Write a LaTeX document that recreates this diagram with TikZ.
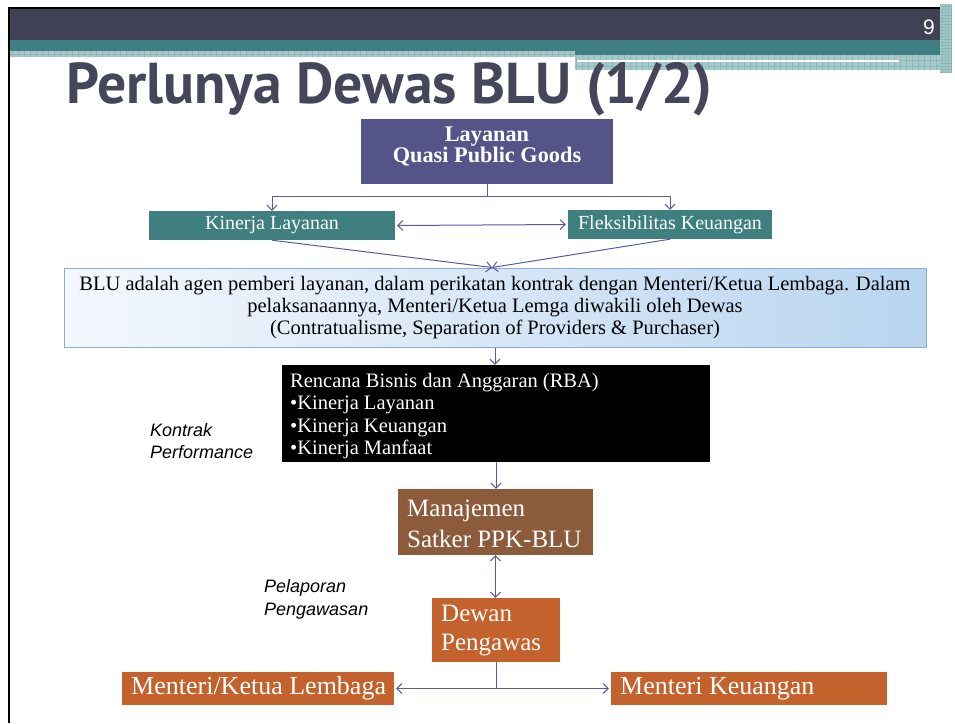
\documentclass[tikz,border=0pt]{standalone}
\usepackage{fontspec}
\setmainfont{Liberation Serif}
\newfontfamily\titlefont{PT Sans}
\newfontfamily\labelfont{Liberation Sans}
\usetikzlibrary{arrows.meta,calc}
\definecolor{hdrdark}{HTML}{414155}
\definecolor{hdrteal}{HTML}{3F7F84}
\definecolor{hdrpat}{HTML}{A6C9C9}
\definecolor{hdrpatline}{HTML}{8DB6B6}
\definecolor{titlecol}{HTML}{46465A}
\definecolor{purplebox}{HTML}{545488}
\definecolor{tealbox}{HTML}{3F7F80}
\definecolor{brownbox}{HTML}{8B5B3C}
\definecolor{orangebox}{HTML}{C4622D}
\definecolor{arrowcol}{HTML}{5B5B9E}
\definecolor{bluleft}{HTML}{F4F8FD}
\definecolor{bluright}{HTML}{B9D5F0}
\definecolor{bluborder}{HTML}{86AEDC}
\tikzset{
  boxbase/.style={inner sep=0pt, text=white},
  conn/.style={draw=arrowcol, line width=1pt},
  tip/.style={-{Straight Barb[length=5pt,width=10pt]}},
  twotip/.style={{Straight Barb[length=5pt,width=10pt]}-{Straight Barb[length=5pt,width=10pt]}},
  sidelabel/.style={anchor=west, align=left, inner sep=0pt, font=\labelfont\itshape\fontsize{18}{22.5}\selectfont}
}
\begin{document}
\begin{tikzpicture}[x=1pt,y=-1pt]
\useasboundingbox (0,0) rectangle (955,723);
\fill[white] (0,0) rectangle (955,723);
% header
\fill[black] (8,7) rectangle (940,9);
\fill[black] (8,7) rectangle (10,723);
\fill[hdrdark] (10,9) rectangle (940,40);
\fill[hdrteal] (10,40) rectangle (940,51);
\fill[hdrteal] (575,51) rectangle (940,55);
\fill[hdrpat] (10,51) rectangle (575,57);
\draw[hdrpatline, line width=0.4pt, step=6pt] (10,51) grid (575,57);
\fill[hdrpat] (575,55) rectangle (945,70);
\draw[hdrpatline, line width=0.4pt, step=6pt] (575,55) grid (945,70);
\fill[white] (577,60) rectangle (899,62);
\fill[hdrpat] (940,4) rectangle (952,72);
\draw[hdrpatline, line width=0.4pt, step=3pt] (940,4) grid (952,72);
\node[text=white, font=\labelfont\fontsize{21}{24}\selectfont, inner sep=0pt] (pagenum) at (929,27) {9};
% title
\node[anchor=base west, text=titlecol, font=\titlefont\bfseries\fontsize{57.6}{60}\selectfont, inner sep=0pt] (title) at (66,103) {Perlunya Dewas BLU (1/2)};
% boxes
\node[boxbase, fill=purplebox, minimum width=252pt, minimum height=65pt] (lay) at (487,151.5) {};
\node[boxbase, align=center, font=\bfseries\fontsize{22.3}{21.5}\selectfont] (laytext) at (487,146.5) {Layanan\\Quasi Public Goods};
\node[boxbase, fill=tealbox, minimum width=246pt, minimum height=29pt,
      font=\fontsize{20}{22}\selectfont] (kin) at (272,225.5) {Kinerja Layanan};
\node[boxbase, fill=tealbox, minimum width=204pt, minimum height=29pt,
      font=\fontsize{20}{22}\selectfont] (fle) at (670,224.5) {Fleksibilitas Keuangan};
\node[inner sep=0pt, draw=bluborder, line width=1pt, left color=bluleft, right color=bluright,
      minimum width=862pt, minimum height=79pt] (blu) at (495,307.5) {};
\node[inner sep=0pt, align=center, text=black, font=\fontsize{20.5}{22}\selectfont] (blutext) at (495,308)
  {BLU adalah agen pemberi layanan, dalam perikatan kontrak dengan Menteri/Ketua Lembaga. Dalam\\
   pelaksanaannya, Menteri/Ketua Lemga diwakili oleh Dewas\\
   (Contratualisme, Separation of Providers \& Purchaser)};
\node[boxbase, fill=black, minimum width=428pt, minimum height=97pt] (rba) at (496,413.5) {};
\node[boxbase, anchor=west, align=left, font=\fontsize{20.5}{22.4}\selectfont] (rbatext) at (290,416)
  {Rencana Bisnis dan Anggaran (RBA)\\\textbullet Kinerja Layanan\\\textbullet Kinerja Keuangan\\\textbullet Kinerja Manfaat};
\node[boxbase, fill=brownbox, minimum width=195pt, minimum height=66pt] (man) at (495.5,522) {};
\node[boxbase, anchor=west, align=left, font=\fontsize{25}{31}\selectfont] (mantext) at (407,524) {Manajemen\\Satker PPK-BLU};
\node[boxbase, fill=orangebox, minimum width=128pt, minimum height=64pt] (dew) at (496,630) {};
\node[boxbase, anchor=west, align=left, font=\fontsize{25}{29}\selectfont] (dewtext) at (441,631) {Dewan\\Pengawas};
\node[boxbase, fill=orangebox, minimum width=272pt, minimum height=33pt] (mkl) at (258,688.5) {};
\node[boxbase, anchor=west, font=\fontsize{26}{28}\selectfont] (mkltext) at (131,688.5) {Menteri/Ketua Lembaga};
\node[boxbase, fill=orangebox, minimum width=276pt, minimum height=33pt] (mk) at (749,688.5) {};
\node[boxbase, anchor=west, font=\fontsize{26}{28}\selectfont] (mktext) at (620,688.5) {Menteri Keuangan};
% side labels
\node[sidelabel] (kp) at (150,441) {Kontrak\\Performance};
\node[sidelabel] (pp) at (264,599.5) {Pelaporan\\Pengawasan};
% connectors
\coordinate (j1) at ($(lay.south)+(0,12)$);
\draw[conn] (lay.south) -- (j1);
\draw[conn, tip] (j1) -| (kin.north);
\draw[conn, tip] (j1) -| (fle.north);
\draw[conn, twotip, shorten <=2pt, shorten >=2pt] (kin.east) -- (fle.west);
\coordinate (bt) at ([xshift=-3pt]blu.north);
\draw[conn, tip] (kin.south) -- (bt);
\draw[conn, tip] (fle.south) -- (bt);
\draw[conn, tip] (blu.south) -- (blu.south |- rba.north);
\draw[conn, tip] (rba.south) -- (rba.south |- man.north);
\draw[conn, twotip] (man.south) -- (man.south |- dew.north);
\coordinate (j2) at (dew.south |- mkl.east);
\draw[conn] (dew.south) -- (j2);
\draw[conn, tip, shorten >=2pt] (j2) -- (mkl.east);
\draw[conn, tip, shorten >=2pt] (j2) -- (mk.west);
\end{tikzpicture}
\end{document}
